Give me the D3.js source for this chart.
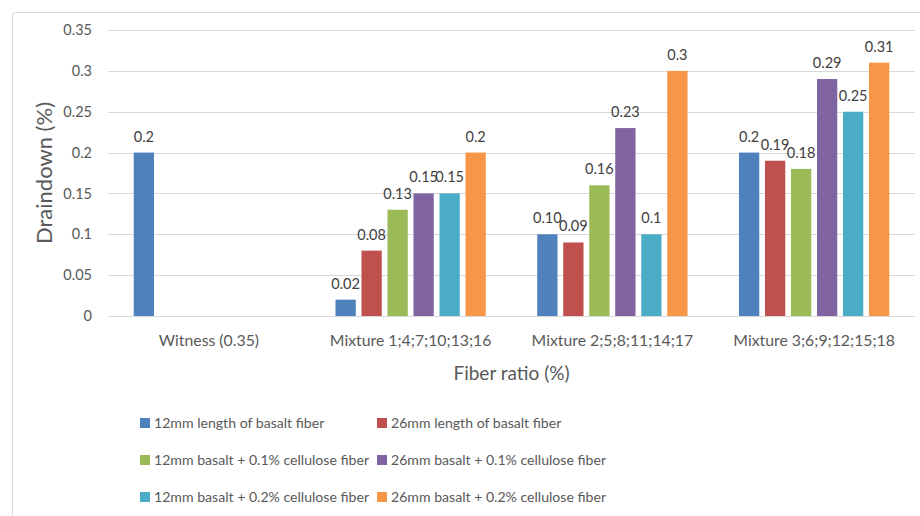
<!DOCTYPE html>
<html><head><meta charset="utf-8">
<script src="https://cdn.jsdelivr.net/npm/d3@7"></script>
<style>body{margin:0;background:#fff}text{font-family:Lato,"Open Sans",sans-serif}</style>
</head><body><svg id="c" width="920" height="516"></svg>
<script>
const categories = ["Witness (0.35)", "Mixture 1;4;7;10;13;16", "Mixture 2;5;8;11;14;17", "Mixture 3;6;9;12;15;18"];
const seriesNames = ["12mm length of basalt fiber", "26mm length of basalt fiber", "12mm basalt + 0.1% cellulose fiber", "26mm basalt + 0.1% cellulose fiber", "12mm basalt + 0.2% cellulose fiber", "26mm basalt + 0.2% cellulose fiber"];
const s12basalt = [0.2, 0.02, 0.10, 0.2];
const s26basalt = [0, 0.08, 0.09, 0.19];
const s12cel01 = [0, 0.13, 0.16, 0.18];
const s26cel01 = [0, 0.15, 0.23, 0.29];
const s12cel02 = [0, 0.15, 0.1, 0.25];
const s26cel02 = [0, 0.2, 0.3, 0.31];
const labels12basalt = ["0.2", "0.02", "0.10", "0.2"];
const labels26basalt = ["", "0.08", "0.09", "0.19"];
const labels12cel01 = ["", "0.13", "0.16", "0.18"];
const labels26cel01 = ["", "0.15", "0.23", "0.29"];
const labels12cel02 = ["", "0.15", "0.1", "0.25"];
const labels26cel02 = ["", "0.2", "0.3", "0.31"];
const yTicks = [0, 0.05, 0.1, 0.15, 0.2, 0.25, 0.3, 0.35];
const colors = ["#4F81BD", "#C0504D", "#9BBB59", "#8064A2", "#4BACC6", "#F79646"];

const series = [s12basalt, s26basalt, s12cel01, s26cel01, s12cel02, s26cel02];
const seriesLabels = [labels12basalt, labels26basalt, labels12cel01, labels26cel01, labels12cel02, labels26cel02];

const svg = d3.select("#c");
svg.append("rect").attr("x", 12.5).attr("y", 12.5).attr("width", 920).attr("height", 520)
  .attr("rx", 3).attr("fill", "#fff").attr("stroke", "#d9d9d9");

const pLeft = 108, pRight = 915, pTop = 30, pBottom = 316;
const x0 = d3.scaleBand().domain(categories).range([pLeft, pRight]);
const x1 = d3.scaleBand().domain(d3.range(6)).range([20, x0.bandwidth() - 20]).padding(0.22);
const y = d3.scaleLinear().domain([0, 0.35]).range([pBottom, pTop]);

// gridlines
svg.append("g").selectAll("line").data(yTicks).join("line")
  .attr("x1", pLeft).attr("x2", pRight)
  .attr("y1", d => Math.round(y(d)) + 0.5).attr("y2", d => Math.round(y(d)) + 0.5)
  .attr("stroke", "#d9d9d9").attr("stroke-width", 1);

// y axis
const yAxis = svg.append("g").attr("transform", `translate(${pLeft - 13},0)`)
  .call(d3.axisLeft(y).tickValues(yTicks).tickSize(0).tickFormat(d => String(+d.toFixed(2))));
yAxis.select(".domain").remove();
yAxis.selectAll("text").attr("font-size", 14.5).attr("fill", "#595959").attr("font-family", "Lato, sans-serif");

// x axis
const xAxis = svg.append("g").attr("transform", `translate(0,${pBottom})`)
  .call(d3.axisBottom(x0).tickSize(0).tickPadding(19));
xAxis.select(".domain").remove();
xAxis.selectAll("text").attr("font-size", 15.8).attr("fill", "#595959").attr("font-family", "Lato, sans-serif");

// bars
const groups = svg.append("g").selectAll("g").data(categories).join("g")
  .attr("transform", d => `translate(${x0(d)},0)`);
groups.each(function(cat, ci) {
  const g = d3.select(this);
  series.forEach((s, si) => {
    const v = s[ci];
    if (v > 0) {
      g.append("rect").attr("x", x1(si)).attr("width", x1.bandwidth())
        .attr("y", y(v)).attr("height", y(0) - y(v)).attr("fill", colors[si]);
    }
    const lab = seriesLabels[si][ci];
    if (lab) {
      g.append("text").attr("x", x1(si) + x1.bandwidth() / 2).attr("y", y(v) - 11)
        .attr("text-anchor", "middle").attr("font-size", 14.5).attr("fill", "#404040").text(lab);
    }
  });
});

// axis titles
svg.append("text").attr("transform", `translate(52,173) rotate(-90)`)
  .attr("text-anchor", "middle").attr("font-size", 22).attr("fill", "#595959").text("Draindown (%)");
svg.append("text").attr("x", (pLeft + pRight) / 2).attr("y", 380)
  .attr("text-anchor", "middle").attr("font-size", 19).attr("fill", "#595959").text("Fiber ratio (%)");

// legend
const legCols = [140, 377], legRows = [423, 460, 497];
const leg = svg.append("g").selectAll("g").data(seriesNames).join("g")
  .attr("transform", (d, i) => `translate(${legCols[i % 2]},${legRows[Math.floor(i / 2)]})`);
leg.append("rect").attr("x", 0).attr("y", -5).attr("width", 10).attr("height", 10).attr("fill", (d, i) => colors[i]);
leg.append("text").attr("x", 14).attr("y", 0).attr("dy", "0.35em").attr("font-size", 14.1)
  .attr("fill", "#595959").text(d => d);
</script></body></html>
